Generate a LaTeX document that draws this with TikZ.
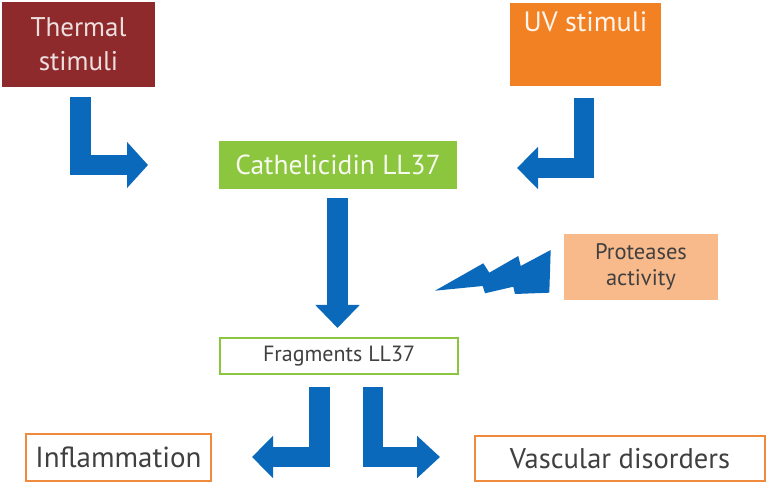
\documentclass[tikz,border=0pt]{standalone}
\usepackage{fontspec}
\setmainfont{PT Sans}
\usetikzlibrary{arrows.meta}
\definecolor{thermalred}{HTML}{8E2A2C}
\definecolor{uvorange}{HTML}{F28123}
\definecolor{leafgreen}{HTML}{8CC63E}
\definecolor{arrowblue}{HTML}{0B69BC}
\definecolor{peach}{HTML}{F8B98B}
\definecolor{boxorange}{HTML}{F08A3C}
\definecolor{darktext}{HTML}{404040}
\tikzset{
  box/.style={inner sep=0pt, outer sep=0pt, align=center, anchor=center},
  blockarrow/.style={draw=arrowblue, line width=20.5pt, line join=miter, line cap=butt},
}
\begin{document}
\begin{tikzpicture}[x=1pt,y=-1pt]
\useasboundingbox (0,0) rectangle (771,486);
% boxes
\node[box, fill=thermalred, minimum width=153pt, minimum height=85pt, text=white!85!thermalred,
      font=\fontsize{27}{34}\selectfont] (thermal) at (78.5,44.5) {Thermal\\stimuli};
\node[box, fill=uvorange, minimum width=151pt, minimum height=83pt, text=white!92!uvorange,
      font=\fontsize{28}{36}\selectfont] (uv) at (585.5,44.5) {UV stimuli\\\strut};
\node[box, fill=leafgreen, minimum width=238pt, minimum height=48pt, text=white!92!leafgreen,
      font=\fontsize{27.5}{33}\selectfont] (cath) at (338,165) {Cathelicidin LL37};
\node[box, draw=leafgreen, line width=2pt, fill=white, minimum width=238pt, minimum height=36pt,
      text=darktext, font=\fontsize{22}{26}\selectfont] (frag) at (339,356) {Fragments LL37};
\node[box, fill=peach, minimum width=154pt, minimum height=66pt, text=darktext,
      font=\fontsize{22.5}{26}\selectfont] (prot) at (641,267) {Proteases\\activity};
\node[box, draw=boxorange, line width=2pt, minimum width=185pt, minimum height=47pt, text=darktext,
      font=\fontsize{29}{34}\selectfont] (infl) at (118.5,457.5) {Inflammation};
\node[box, draw=boxorange, line width=2pt, minimum width=290pt, minimum height=45pt, text=darktext,
      font=\fontsize{28.5}{34}\selectfont] (vasc) at (620,458.5) {Vascular disorders};
% arrow coordinates
\coordinate (thS) at (80.5,97);   \coordinate (thE) at (148,165);
\coordinate (uvS) at (584,98);    \coordinate (uvE) at (517,168);
\coordinate (dnS) at (337.5,198); \coordinate (dnE) at (337.5,328);
\coordinate (lS) at (319.5,387);  \coordinate (lE) at (252,457);
\coordinate (rS) at (373,387);    \coordinate (rE) at (440,457);
% block arrows
\draw[blockarrow, -{Triangle[width=45pt,length=21pt]}] (thS) |- (thE);
\draw[blockarrow, -{Triangle[width=41pt,length=21pt]}] (uvS) |- (uvE);
\draw[blockarrow, -{Triangle[width=43pt,length=23pt]}] (dnS) -- (dnE);
\draw[blockarrow, -{Triangle[width=41pt,length=21pt]}] (lS) |- (lE);
\draw[blockarrow, -{Triangle[width=41pt,length=23pt]}] (rS) |- (rE);
% lightning
\fill[arrowblue] (435,290.7) -- (483.3,263.3) -- (489.3,272.7) -- (518.3,256) -- (520.7,266)
  -- (550.7,250) -- (549.3,292.7) -- (515,294) -- (513.3,286.7) -- (485,293.3) -- (482.7,286) -- cycle;
\end{tikzpicture}
\end{document}
